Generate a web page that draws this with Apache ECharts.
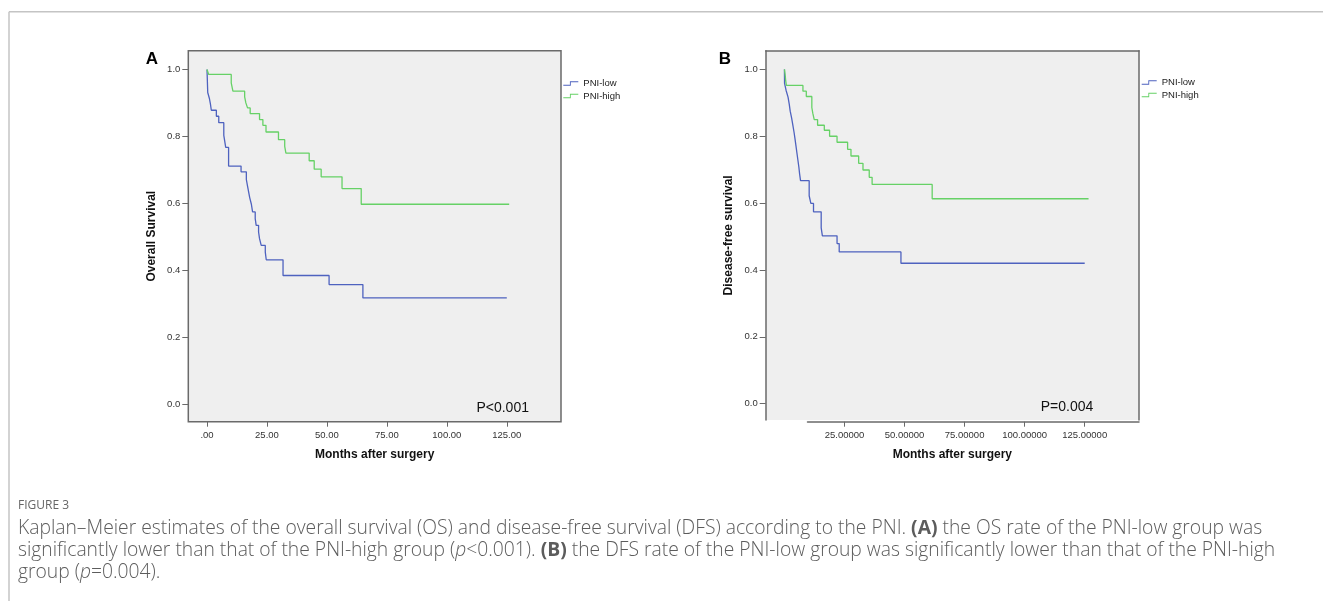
<!DOCTYPE html>
<html>
<head>
<meta charset="utf-8">
<title>Figure 3</title>
<script src="https://cdn.jsdelivr.net/npm/echarts@6/dist/echarts.min.js"></script>
<style>
  html, body { margin: 0; padding: 0; background: #fff; }
  #chart { width: 1323px; height: 601px; }
</style>
</head>
<body>
<div id="chart"></div>
<script>
// values: [months, cumulative survival]
const groupNames = ['PNI-low', 'PNI-high'];

// panel A - overall survival
const osLow = [
  [0, 1.0], [0.3, 0.931], [1.0, 0.913], [1.4, 0.898], [1.8, 0.878], [3.9, 0.860],
  [4.9, 0.841], [7.0, 0.803], [7.8, 0.767], [9.0, 0.711], [14.2, 0.694], [16.4, 0.671],
  [16.9, 0.651], [17.35, 0.634], [17.8, 0.617], [18.5, 0.597], [19.0, 0.574], [20.1, 0.554],
  [20.5, 0.534], [21.5, 0.514], [21.9, 0.494], [22.6, 0.474], [24.3, 0.454], [24.7, 0.431],
  [31.7, 0.384], [50.9, 0.357], [65.0, 0.317], [125.0, 0.317]
];
const osHigh = [
  [0, 1.0], [0.7, 0.985], [10.1, 0.960], [10.8, 0.935], [15.7, 0.918], [16.2, 0.900],
  [16.9, 0.885], [18.0, 0.868], [21.9, 0.850], [23.3, 0.833], [24.6, 0.813], [29.8, 0.790],
  [32.4, 0.770], [32.9, 0.750], [42.6, 0.727], [44.7, 0.702], [47.6, 0.679], [56.3, 0.644],
  [64.3, 0.597], [126.0, 0.597]
];

// panel B - disease-free survival
const dfsLow = [
  [0, 1.0], [0.05, 0.958], [0.7, 0.937], [1.5, 0.917], [2.0, 0.896], [2.4, 0.875],
  [3.0, 0.854], [3.5, 0.833], [4.0, 0.812], [4.4, 0.792], [4.8, 0.771], [5.2, 0.750],
  [5.6, 0.729], [6.0, 0.708], [6.3, 0.688], [6.7, 0.667], [10.3, 0.622], [11.0, 0.599],
  [12.1, 0.574], [15.3, 0.526], [15.8, 0.502], [21.9, 0.479], [22.8, 0.454], [48.5, 0.420],
  [125.0, 0.420]
];
const dfsHigh = [
  [0, 1.0], [0.3, 0.984], [0.5, 0.968], [0.8, 0.952], [7.7, 0.935], [9.1, 0.919],
  [11.4, 0.886], [11.8, 0.869], [12.4, 0.850], [13.8, 0.833], [16.6, 0.818], [18.8, 0.800],
  [21.9, 0.782], [26.3, 0.761], [27.7, 0.741], [30.9, 0.719], [32.7, 0.699], [35.3, 0.677],
  [36.5, 0.656], [61.5, 0.613], [126.6, 0.613]
];

const survTicks = [0, 0.2, 0.4, 0.6, 0.8, 1.0];
const survLabels = ['0.0', '0.2', '0.4', '0.6', '0.8', '1.0'];
const monthTicksA = [0, 25, 50, 75, 100, 125];
const monthLabelsA = ['.00', '25.00', '50.00', '75.00', '100.00', '125.00'];
const monthTicksB = [25, 50, 75, 100, 125];
const monthLabelsB = ['25.00000', '50.00000', '75.00000', '100.00000', '125.00000'];
const pLabels = ['P<0.001', 'P=0.004'];

const BLUE = '#4e62bf';
const GREEN = '#66d166';
const AXIS = '#6a6a6a';
const TICKTEXT = '#333';
const FONT = '"Liberation Sans", Arial, sans-serif';
const CAPFONT = '"Open Sans", sans-serif';
const CAPCOLOR = '#5c5c5c';
const CAPSIZE = 19.3;

function labelOf(ticks, labels) {
  return v => {
    const i = ticks.findIndex(t => Math.abs(t - v) < 1e-6);
    return i < 0 ? '' : labels[i];
  };
}

// small step shape like the SPSS legend key (filled outline, 1px thick)
const stepIcon = 'path://M0,4 L7.5,4 L7.5,0 L17,0 L17,1 L8.5,1 L8.5,5 L0,5 Z';

const tickLabel = { color: TICKTEXT, fontSize: 9.5, fontFamily: FONT };
const axisName = { color: '#111', fontSize: 12, fontWeight: 'bold', fontFamily: FONT };
const axisLineOn = { show: true, onZero: false, lineStyle: { color: AXIS, width: 1.5 } };
const axisLineOff = { show: false, onZero: false };

function yAxisMain(grid, min) {
  return {
    gridIndex: grid, type: 'value', min: min, max: 1.056,
    axisLine: grid === 1 ? axisLineOn : axisLineOff,
    axisTick: { show: true, length: 6, customValues: survTicks, lineStyle: { color: AXIS } },
    axisLabel: Object.assign({ margin: 8, customValues: survTicks, formatter: labelOf(survTicks, survLabels) }, tickLabel),
    splitLine: { show: false },
    name: grid === 0 ? 'Overall Survival' : 'Disease-free survival',
    nameLocation: 'middle', nameGap: 31, nameTextStyle: axisName
  };
}

const legendBase = {
  orient: 'vertical', padding: 0, itemWidth: 15, itemHeight: 4.5, itemGap: 1.5,
  icon: stepIcon,
  textStyle: { color: '#222', fontSize: 9.5, fontFamily: FONT, lineHeight: 11 },
  selectedMode: false,
  data: groupNames
};

function captionRich(size) {
  return {
    b: { fontWeight: 'bold', fontSize: size, fontFamily: CAPFONT, fill: CAPCOLOR },
    i: { fontStyle: 'italic', fontWeight: 300, fontSize: size, fontFamily: CAPFONT, fill: CAPCOLOR }
  };
}

const chart = echarts.init(document.getElementById('chart'));

chart.setOption({
  animation: false,
  backgroundColor: '#fff',
  grid: [
    { left: 188.3, top: 50.7, width: 372.7, height: 371, show: true,
      backgroundColor: '#efefef', borderColor: AXIS, borderWidth: 1.5 },
    { left: 765.7, top: 50.7, width: 373.3, height: 369.3, show: true,
      backgroundColor: '#efefef', borderWidth: 0 },
    { left: 807.5, top: 50.7, width: 331.5, height: 371, show: false }
  ],
  xAxis: [
    { gridIndex: 0, type: 'value', min: -7.8, max: 147.6,
      axisLine: axisLineOff,
      axisTick: { show: true, length: 5, customValues: monthTicksA, lineStyle: { color: AXIS } },
      axisLabel: Object.assign({ margin: 9, customValues: monthTicksA, formatter: labelOf(monthTicksA, monthLabelsA) }, tickLabel),
      splitLine: { show: false },
      name: 'Months after surgery', nameLocation: 'middle', nameGap: 27, nameTextStyle: axisName },
    { gridIndex: 1, type: 'value', min: -7.8, max: 147.6,
      axisLine: axisLineOff, axisTick: { show: false }, axisLabel: { show: false },
      splitLine: { show: false },
      name: 'Months after surgery', nameLocation: 'middle', nameGap: 28.7, nameTextStyle: axisName },
    { gridIndex: 1, type: 'value', min: -7.8, max: 147.6, position: 'top',
      axisLine: axisLineOn,
      axisTick: { show: false }, axisLabel: { show: false }, splitLine: { show: false } },
    { gridIndex: 2, type: 'value', min: 9.6, max: 147.6,
      axisLine: axisLineOn,
      axisTick: { show: true, length: 5, customValues: monthTicksB, lineStyle: { color: AXIS } },
      axisLabel: Object.assign({ margin: 9, customValues: monthTicksB, formatter: labelOf(monthTicksB, monthLabelsB) }, tickLabel),
      splitLine: { show: false } }
  ],
  yAxis: [
    yAxisMain(0, -0.053),
    yAxisMain(1, -0.049),
    { gridIndex: 1, type: 'value', min: -0.049, max: 1.056, position: 'right',
      axisLine: axisLineOn,
      axisTick: { show: false }, axisLabel: { show: false }, splitLine: { show: false } },
    { gridIndex: 2, type: 'value', min: 0, max: 1, show: false }
  ],
  legend: [
    Object.assign({ left: 563.3, top: 78 }, legendBase),
    Object.assign({ left: 1141.7, top: 77 }, legendBase)
  ],
  series: [
    { name: groupNames[0], type: 'line', step: 'end', xAxisIndex: 0, yAxisIndex: 0, data: osLow,
      symbol: 'none', lineStyle: { color: BLUE, width: 1.3 }, itemStyle: { color: BLUE } },
    { name: groupNames[1], type: 'line', step: 'end', xAxisIndex: 0, yAxisIndex: 0, data: osHigh,
      symbol: 'none', lineStyle: { color: GREEN, width: 1.3 }, itemStyle: { color: GREEN } },
    { name: groupNames[0], type: 'line', step: 'end', xAxisIndex: 1, yAxisIndex: 1, data: dfsLow,
      symbol: 'none', lineStyle: { color: BLUE, width: 1.3 }, itemStyle: { color: BLUE } },
    { name: groupNames[1], type: 'line', step: 'end', xAxisIndex: 1, yAxisIndex: 1, data: dfsHigh,
      symbol: 'none', lineStyle: { color: GREEN, width: 1.3 }, itemStyle: { color: GREEN } }
  ],
  graphic: [
    // outer frame of the figure
    { type: 'line', shape: { x1: 9, y1: 11.7, x2: 1323, y2: 11.7 }, style: { stroke: '#c4c4c4', lineWidth: 1.5 } },
    { type: 'line', shape: { x1: 9, y1: 11.7, x2: 9, y2: 601 }, style: { stroke: '#c4c4c4', lineWidth: 1.5 } },
    // panel letters
    { type: 'text', x: 152, y: 59, style: { text: 'A', font: 'bold 17px ' + FONT, fill: '#000', textAlign: 'center', textVerticalAlign: 'middle' } },
    { type: 'text', x: 725, y: 59, style: { text: 'B', font: 'bold 17px ' + FONT, fill: '#000', textAlign: 'center', textVerticalAlign: 'middle' } },
    // log-rank p values
    { type: 'text', x: 502.7, y: 408.3, style: { text: pLabels[0], font: '14px ' + FONT, fill: '#111', textAlign: 'center', textVerticalAlign: 'middle' } },
    { type: 'text', x: 1067, y: 407.3, style: { text: pLabels[1], font: '14px ' + FONT, fill: '#111', textAlign: 'center', textVerticalAlign: 'middle' } },
    // caption
    { type: 'text', x: 18, y: 506, style: { text: 'FIGURE 3', font: '12px ' + CAPFONT, fill: '#666', textVerticalAlign: 'middle' } },
    { type: 'text', x: 18, y: 529, style: {
        text: 'Kaplan–Meier estimates of the overall survival (OS) and disease-free survival (DFS) according to the PNI. {b|(A)} the OS rate of the PNI-low group was',
        font: '300 ' + CAPSIZE + 'px ' + CAPFONT, fill: CAPCOLOR, textVerticalAlign: 'middle', rich: captionRich(CAPSIZE) } },
    { type: 'text', x: 18, y: 551, style: {
        text: 'significantly lower than that of the PNI-high group ({i|p}<0.001). {b|(B)} the DFS rate of the PNI-low group was significantly lower than that of the PNI-high',
        font: '300 ' + CAPSIZE + 'px ' + CAPFONT, fill: CAPCOLOR, textVerticalAlign: 'middle', rich: captionRich(CAPSIZE) } },
    { type: 'text', x: 18, y: 573, style: {
        text: 'group ({i|p}=0.004).',
        font: '300 ' + CAPSIZE + 'px ' + CAPFONT, fill: CAPCOLOR, textVerticalAlign: 'middle', rich: captionRich(CAPSIZE) } }
  ]
});
</script>
</body>
</html>
